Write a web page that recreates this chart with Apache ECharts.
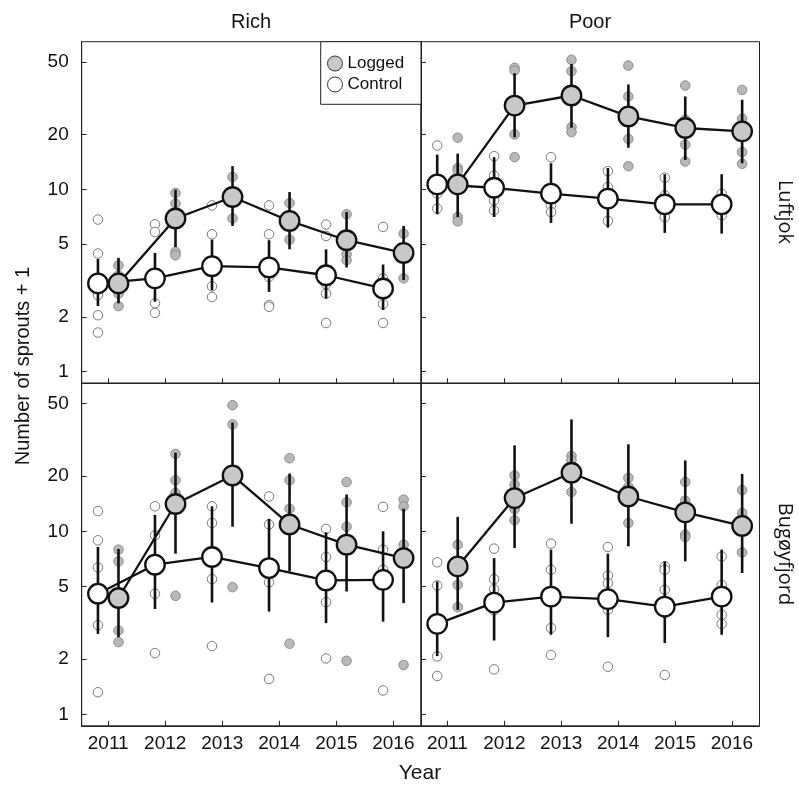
<!DOCTYPE html>
<html><head><meta charset="utf-8">
<script src="https://cdn.jsdelivr.net/npm/echarts@6/dist/echarts.min.js"></script>
<style>html,body{margin:0;padding:0;background:#fff}#c{width:799px;height:787px}</style>
</head><body><div id="c"></div>
<script>
const years = [2011, 2012, 2013, 2014, 2015, 2016];
const yTicks = [1, 2, 5, 10, 20, 50];
const columnLabels = ['Rich', 'Poor'];
const rowLabels = ['Luftjok', 'Bugøyfjord'];
const seriesNames = ['Logged', 'Control'];

// Rich, Luftjok
const richLuftLoggedMean = [3.05, 6.92, 9.08, 6.71, 5.26, 4.48];
const richLuftLoggedHi = [4.21, 9.96, 13.4, 9.66, 7.51, 6.30];
const richLuftLoggedLo = [2.37, 4.83, 6.30, 4.69, 3.73, 3.18];
const richLuftControlMean = [3.05, 3.25, 3.79, 3.73, 3.38, 2.86];
const richLuftControlHi = [4.15, 4.48, 5.30, 5.26, 4.69, 3.87];
const richLuftControlLo = [2.29, 2.42, 2.80, 2.74, 2.52, 2.18];
const richLuftLoggedRaw = [[3.83, 3.38, 2.68, 2.29], [9.55, 8.35, 4.54, 4.35], [11.7, 9.2, 6.92], [8.41, 6.7, 5.30], [7.30, 5.2, 4.41, 4.09], [5.72, 4.5, 3.25]];
const richLuftControlRaw = [[6.83, 4.45, 2.63, 2.04, 1.64], [6.43, 5.84, 2.37, 2.10], [8.17, 5.67, 2.94, 2.57], [8.17, 5.67, 3.31, 2.32, 2.27], [6.41, 5.55, 3.02, 2.68, 1.85], [6.22, 3.25, 2.35, 1.85]];

// Poor, Luftjok
const poorLuftLoggedMean = [10.65, 28.8, 32.7, 25.1, 21.7, 20.8];
const poorLuftLoggedHi = [15.7, 43.3, 48.7, 37.6, 32.3, 31.0];
const poorLuftLoggedLo = [7.05, 19.3, 21.8, 16.9, 14.5, 13.9];
const poorLuftControlMean = [10.65, 10.2, 9.47, 8.89, 8.28, 8.28];
const poorLuftControlHi = [15.5, 15.0, 13.9, 13.1, 12.1, 12.1];
const poorLuftControlLo = [7.30, 7.05, 6.54, 6.17, 5.77, 5.72];
const poorLuftLoggedRaw = [[19.2, 13.1, 12.7, 7.05, 6.67], [46.4, 44.8, 20.0, 15.0], [51.3, 44.4, 21.9, 20.6], [47.7, 32.3, 18.9, 13.4], [37.1, 24.1, 17.6, 14.2], [35.1, 24.4, 16.0, 13.8]];
const poorLuftControlRaw = [[17.4, 9.47, 7.84], [15.2, 11.9, 8.70, 7.67], [15.0, 8.17, 7.51], [12.6, 10.3, 6.71], [11.6, 9.27, 7.05], [9.47, 7.2]];

// Rich, Bugøyfjord
const richBugLoggedMean = [4.32, 14.1, 20.2, 10.9, 8.45, 7.14];
const richBugLoggedHi = [8.01, 26.9, 39.3, 20.7, 15.9, 13.3];
const richBugLoggedLo = [2.64, 7.55, 10.6, 6.04, 4.69, 4.05];
const richBugControlMean = [4.56, 6.57, 7.24, 6.30, 5.39, 5.43];
const richBugControlHi = [8.21, 12.3, 13.7, 11.7, 9.88, 10.0];
const richBugControlLo = [2.75, 3.76, 4.08, 3.64, 3.15, 3.21];
const richBugLoggedRaw = [[7.94, 6.85, 2.87, 2.48], [26.5, 19.0, 16.2, 4.44], [48.9, 38.4, 4.95], [25.1, 19.0, 13.3, 2.43], [18.6, 14.4, 10.6, 1.96], [14.9, 13.7, 8.45, 1.86]];
const richBugControlRaw = [[12.9, 8.93, 6.35, 3.07, 1.32], [13.7, 9.5, 4.56, 2.16], [13.7, 11.1, 5.48, 2.36], [15.5, 10.9, 5.26, 1.56], [10.3, 7.24, 4.10, 2.02], [13.6, 7.94, 6.17, 1.35]];

// Poor, Bugøyfjord
const poorBugLoggedMean = [6.43, 15.2, 20.9, 15.5, 12.7, 10.7];
const poorBugLoggedHi = [11.99, 29.5, 40.9, 29.9, 24.4, 20.6];
const poorBugLoggedLo = [3.72, 8.11, 11.0, 8.28, 6.85, 5.92];
const poorBugControlMean = [3.12, 4.08, 4.40, 4.26, 3.88, 4.40];
const poorBugControlHi = [5.32, 7.14, 7.94, 7.55, 6.85, 7.94];
const poorBugControlLo = [2.08, 2.53, 2.72, 2.64, 2.45, 2.72];
const poorBugLoggedRaw = [[8.45, 5.10, 3.85], [20.2, 18.0, 13.2, 11.5], [25.8, 24.5, 16.4], [19.6, 17.5, 11.1], [18.6, 14.7, 9.58, 9.3], [16.8, 12.6, 7.67]];
const poorBugControlRaw = [[6.77, 5.06, 2.07, 1.62], [8.04, 5.48, 4.83, 3.70, 1.76], [8.56, 6.17, 2.96, 2.11], [8.21, 5.72, 5.21, 3.72, 1.82], [6.43, 6.17, 4.79, 3.57, 1.64], [7.29, 5.10, 3.50, 3.12]];

const panels = [
  {logged: [richLuftLoggedMean, richLuftLoggedLo, richLuftLoggedHi, richLuftLoggedRaw], control: [richLuftControlMean, richLuftControlLo, richLuftControlHi, richLuftControlRaw]},
  {logged: [poorLuftLoggedMean, poorLuftLoggedLo, poorLuftLoggedHi, poorLuftLoggedRaw], control: [poorLuftControlMean, poorLuftControlLo, poorLuftControlHi, poorLuftControlRaw]},
  {logged: [richBugLoggedMean, richBugLoggedLo, richBugLoggedHi, richBugLoggedRaw], control: [richBugControlMean, richBugControlLo, richBugControlHi, richBugControlRaw]},
  {logged: [poorBugLoggedMean, poorBugLoggedLo, poorBugLoggedHi, poorBugLoggedRaw], control: [poorBugControlMean, poorBugControlLo, poorBugControlHi, poorBugControlRaw]}
];

const FONT = 'Liberation Sans, Arial, sans-serif';
const INK = '#111';
const FRAME = '#222';
const dodge = {Logged: 0.18, Control: -0.18};
const lg = Math.log10;

const gridBoxes = [
  {left: 81.7, top: 41.7, width: 339.3, height: 341.5},
  {left: 421, top: 41.7, width: 338.5, height: 341.5},
  {left: 81.7, top: 383.2, width: 339.3, height: 342.6},
  {left: 421, top: 383.2, width: 338.5, height: 342.6}
];

const grid = gridBoxes.map(g => Object.assign({show: true, borderColor: FRAME, borderWidth: 1, containLabel: false}, g));

const xAxis = gridBoxes.map((g, i) => ({
  type: 'value', gridIndex: i, min: 2010.535, max: 2016.485,
  axisLine: {show: true, onZero: false, lineStyle: {color: FRAME, width: 1}},
  axisTick: {show: true, inside: true, length: 5, customValues: years, lineStyle: {color: FRAME}},
  axisLabel: {show: i >= 2, customValues: years, margin: 8, fontSize: 19, fontFamily: FONT, color: INK, formatter: v => String(Math.round(v))},
  splitLine: {show: false}
}));

const yAxis = gridBoxes.map((g, i) => ({
  type: 'value', gridIndex: i, min: lg(0.865), max: lg(64.5),
  axisLine: {show: true, onZero: false, lineStyle: {color: FRAME, width: 1}},
  axisTick: {show: true, inside: true, length: 5, customValues: yTicks.map(lg), lineStyle: {color: FRAME}},
  axisLabel: {show: i % 2 === 0, customValues: yTicks.map(lg), margin: 13, fontSize: 19, fontFamily: FONT, color: INK, formatter: v => String(Math.round(Math.pow(10, v)))},
  splitLine: {show: false}
}));

const styles = {
  Logged: {meanFill: '#c8c8c8', rawFill: '#b8b8b8', rawBorder: '#8c8c8c', z: 4},
  Control: {meanFill: '#ffffff', rawFill: '#ffffff', rawBorder: '#7a7a7a', z: 3}
};

const series = [];
panels.forEach((p, gi) => {
  ['Control', 'Logged'].forEach(name => {
    const [mean, lo, hi, raw] = name === 'Logged' ? p.logged : p.control;
    const st = styles[name];
    const d = dodge[name];
    const rawData = [];
    raw.forEach((arr, i) => arr.forEach(v => rawData.push([years[i] + d, lg(v)])));
    series.push({
      type: 'scatter', name: name + ' raw', xAxisIndex: gi, yAxisIndex: gi, z: 1,
      symbol: 'circle', symbolSize: 9.5, silent: true,
      itemStyle: {color: st.rawFill, borderColor: st.rawBorder, borderWidth: 1, opacity: 1},
      data: rawData
    });
    series.push({
      type: 'custom', name: name + ' ci', xAxisIndex: gi, yAxisIndex: gi, z: 2, silent: true,
      encode: {x: 0, y: [1, 2]},
      data: years.map((y, i) => [y + d, lg(lo[i]), lg(hi[i])]),
      renderItem: (params, api) => {
        const a = api.coord([api.value(0), api.value(1)]);
        const b = api.coord([api.value(0), api.value(2)]);
        return {type: 'line', shape: {x1: a[0], y1: a[1], x2: b[0], y2: b[1]}, style: {stroke: INK, lineWidth: 2.6}};
      }
    });
    series.push({
      type: 'line', name: name, xAxisIndex: gi, yAxisIndex: gi, z: st.z,
      symbol: 'circle', symbolSize: 19.5, showAllSymbol: true,
      lineStyle: {color: INK, width: 2.3},
      itemStyle: {color: st.meanFill, borderColor: INK, borderWidth: 2.3},
      data: years.map((y, i) => [y + d, lg(mean[i])])
    });
  });
});

const txt = (text, x, y, size, rot, family) => ({
  type: 'text', x: x, y: y, rotation: rot || 0, z: 10,
  style: {text: text, fontSize: size, fontFamily: family || FONT, fill: INK, align: 'center', verticalAlign: 'middle'}
});

const option = {
  animation: false,
  backgroundColor: '#fff',
  grid: grid, xAxis: xAxis, yAxis: yAxis, series: series,
  legend: {
    left: 327, top: 55, orient: 'vertical', itemWidth: 15, itemHeight: 15, itemGap: 4, z: 12,
    selectedMode: false, padding: 0,
    textStyle: {fontSize: 17, fontFamily: FONT, color: INK},
    data: [
      {name: seriesNames[0], icon: 'circle', itemStyle: {color: '#c8c8c8', borderColor: '#333', borderWidth: 1}},
      {name: seriesNames[1], icon: 'circle', itemStyle: {color: '#ffffff', borderColor: '#333', borderWidth: 1}}
    ]
  },
  graphic: [
    {type: 'rect', z: 11, shape: {x: 320.7, y: 41.7, width: 100.3, height: 62.6}, style: {fill: '#fff', stroke: FRAME, lineWidth: 1}},
    txt(columnLabels[0], 251, 22, 20),
    txt(columnLabels[1], 590, 22, 20),
    txt(rowLabels[0], 785, 212, 20, -Math.PI / 2, 'Open Sans, Liberation Sans, sans-serif'),
    txt(rowLabels[1], 785, 554, 20, -Math.PI / 2, 'Open Sans, Liberation Sans, sans-serif'),
    txt('Number of sprouts + 1', 23, 366, 20, Math.PI / 2),
    txt('Year', 420, 773, 21)
  ]
};

echarts.init(document.getElementById('c'), null, {renderer: 'canvas'}).setOption(option);
</script>
</body></html>
